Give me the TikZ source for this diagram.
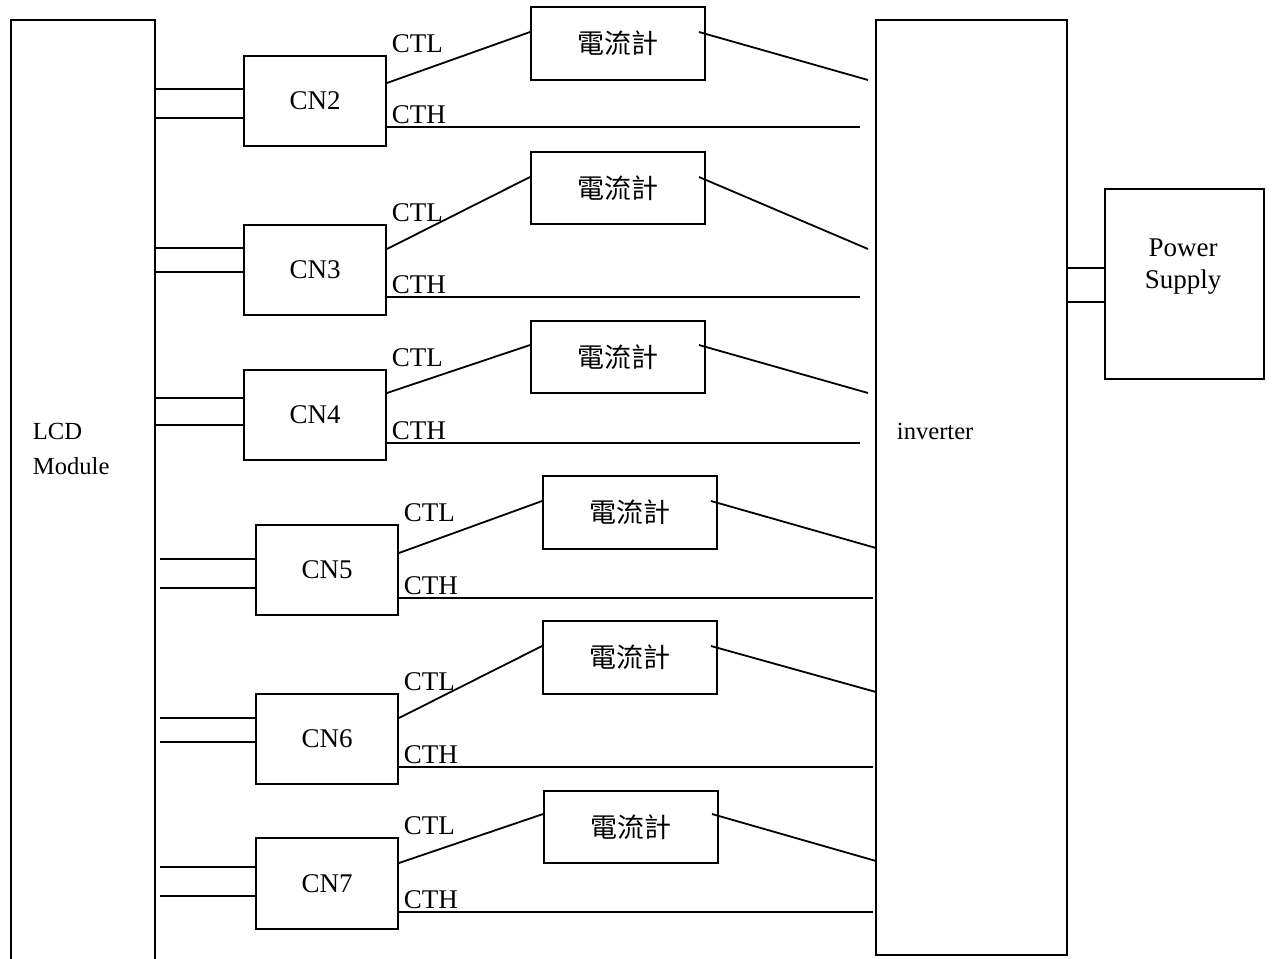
\documentclass[tikz,border=0pt]{standalone}
\usepackage{fontspec}
\setmainfont{Liberation Serif}
\newfontfamily\cjk{Noto Sans CJK TC}
\begin{document}
\begin{tikzpicture}[x=0.5pt,y=-0.5pt, line width=0.9pt,
  box/.style={draw, rectangle, inner sep=0pt, font=\fontsize{13.5}{16}\selectfont},
  meter/.style={box, minimum width=87pt, font=\cjk\fontsize{13.5}{16}\selectfont},
  cnbox/.style={box, minimum width=71pt},
  lbl/.style={inner sep=0pt, font=\fontsize{13.5}{16}\selectfont, anchor=base west},
  slbl/.style={inner sep=0pt, font=\fontsize{12.3}{15}\selectfont, anchor=base west}]
\useasboundingbox (0,0) rectangle (1272,958);
\clip (0,0) rectangle (1272,958);
% main blocks
\node[box, minimum width=72pt, minimum height=485pt] (lcd) at (83,505) {};
\node[slbl] (lcdA) at (32,439) {LCD};
\node[slbl] (lcdB) at (32,474) {Module};
\node[box, minimum width=95.5pt, minimum height=467.5pt] (inv) at (971.5,487.5) {};
\node[slbl] (invl) at (896,439) {inverter};
\node[box, minimum width=79.5pt, minimum height=95pt] (ps) at (1184.5,284) {};
\node[lbl, anchor=base] (psA) at (1183,256) {Power};
\node[lbl, anchor=base] (psB) at (1183,288) {Supply};
\draw (inv.east |- 0,268) -- (ps.west |- 0,268);
\draw (inv.east |- 0,302) -- (ps.west |- 0,302);
% rows
\foreach \rN/\rX/\rT/\rB/\rA/\rL/\rS/\mX/\mT/\mB/\yA/\yB/\yE/\xE/\yH/\xH in {
  2/244/56/146/89/118/155/531/7/80/83/32/80/868/127/860,
  3/244/225/315/248/272/155/531/152/224/249/177/249/868/297/860,
  4/244/370/460/398/425/155/531/321/393/393/345/393/868/443/860,
  5/256/525/615/559/588/160/543/476/549/553/501/548/876/598/873,
  6/256/694/784/718/742/160/543/621/694/718/646/692/876/767/873,
  7/256/838/929/867/896/160/544/791/863/863/814/861/876/912/873}{
  \node[cnbox, minimum height={(\rB-\rT)*0.5pt}] (cn\rN) at ({\rX+71},{(\rT+\rB)/2}) {CN\rN};
  \node[meter, minimum height={(\mB-\mT)*0.5pt}] (m\rN) at ({\mX+87},{(\mT+\mB)/2}) {電流計};
  \coordinate (sa\rN) at (\rS,\rA);
  \coordinate (sb\rN) at (\rS,\rL);
  \draw (sa\rN) -- (cn\rN.west |- sa\rN);
  \draw (sb\rN) -- (cn\rN.west |- sb\rN);
  \coordinate (ca\rN) at (0,\yA);
  \coordinate (cb\rN) at (0,\yB);
  \draw (cn\rN.east |- ca\rN) -- (m\rN.west |- cb\rN);
  \coordinate (rs\rN) at ({\mX+168},\yB);
  \coordinate (re\rN) at (\xE,\yE);
  \draw (rs\rN) -- (re\rN);
  \coordinate (th\rN) at (\xH,\yH);
  \draw (cn\rN.east |- th\rN) -- (th\rN);
  \node[lbl] (ctl\rN) at ({\rX+147},{\rT-4}) {CTL};
  \node[lbl] (cth\rN) at ({\rX+147},{\yH-3.5}) {CTH};
}
\end{tikzpicture}
\end{document}
